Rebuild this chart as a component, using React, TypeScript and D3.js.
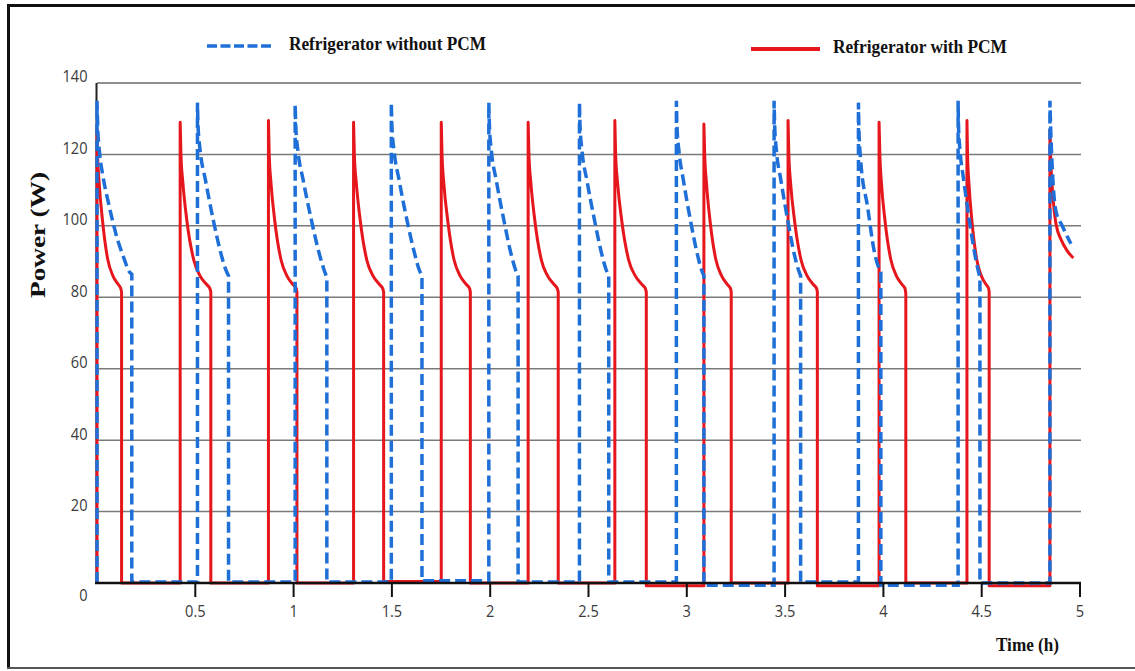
import React from "react";
import * as d3 from "d3";

const xTicks = [0.5, 1, 1.5, 2, 2.5, 3, 3.5, 4, 4.5, 5];
const xTickLabels = ["0.5", "1", "1.5", "2", "2.5", "3", "3.5", "4", "4.5", "5"];
const yTicks = [0, 20, 40, 60, 80, 100, 120, 140];
const yTickLabels = ["0", "20", "40", "60", "80", "100", "120", "140"];

const seriesNames = ["Refrigerator without PCM", "Refrigerator with PCM"];

// Refrigerator without PCM: [time (h), power (W)]
const withoutPCM: [number, number][] = [
  [0, 0], [0, 135], [0.004, 127], [0.014, 120], [0.03, 114], [0.06, 106], [0.1, 97], [0.14, 90.5], [0.16, 87.5], [0.177, 86.5], [0.177, 0.3], [0.511, 0.3],
  [0.511, 134.5], [0.514, 128], [0.525, 121], [0.551, 113], [0.59, 102], [0.634, 91.5], [0.653, 88], [0.669, 86], [0.669, 0.3], [1.008, 0.3],
  [1.008, 134], [1.011, 128], [1.022, 121], [1.048, 113], [1.089, 102], [1.134, 91.5], [1.153, 88], [1.169, 85.5], [1.169, 0.3], [1.497, 0.3],
  [1.497, 134.5], [1.5, 128], [1.511, 121], [1.536, 113], [1.575, 102], [1.619, 91.5], [1.637, 88], [1.653, 86], [1.653, 0.6], [1.993, 0.6],
  [1.993, 134.5], [1.996, 128], [2.006, 121], [2.03, 113], [2.068, 102], [2.109, 91.5], [2.127, 88], [2.142, 86], [2.142, 0.3], [2.454, 0.3],
  [2.454, 134.5], [2.457, 128], [2.467, 121], [2.491, 113], [2.529, 102], [2.57, 91.5], [2.588, 88], [2.603, 86], [2.603, 0.3], [2.947, 0.3],
  [2.947, 135], [2.95, 128], [2.96, 121], [2.982, 113], [3.017, 102], [3.056, 91.5], [3.073, 88], [3.087, 86], [3.087, -0.6], [3.444, -0.6],
  [3.444, 135], [3.447, 128], [3.456, 121], [3.478, 113], [3.512, 102], [3.549, 91.5], [3.566, 88], [3.579, 86], [3.579, 0.3], [3.873, 0.3],
  [3.873, 134.5], [3.875, 128], [3.885, 118], [3.919, 105.5], [3.953, 93], [3.978, 88], [3.987, 87], [3.987, -0.6], [4.38, -0.6],
  [4.38, 135], [4.382, 128], [4.39, 121], [4.408, 113], [4.436, 102], [4.467, 91.5], [4.48, 88], [4.491, 85.5], [4.491, 0], [4.847, 0],
  [4.847, 135], [4.851, 127], [4.86, 115], [4.878, 104], [4.91, 100], [4.935, 97], [4.954, 95],
];

// Refrigerator with PCM: [time (h), power (W)]
const withPCM: [number, number][] = [
  [0, 0], [0, 127], [0.003, 120], [0.011, 112], [0.028, 101.5], [0.055, 90.5], [0.081, 86], [0.109, 83.5], [0.121, 82.5], [0.125, 81.5], [0.125, 0], [0.423, 0],
  [0.423, 129], [0.427, 120], [0.437, 112], [0.457, 101.5], [0.492, 90.5], [0.524, 86], [0.559, 83.5], [0.574, 82.5], [0.579, 81.5], [0.579, 0], [0.872, 0],
  [0.872, 129.5], [0.876, 120], [0.885, 112], [0.904, 101.5], [0.936, 90.5], [0.966, 86], [0.998, 83.5], [1.013, 82.5], [1.017, 81.5], [1.017, 0], [1.305, 0],
  [1.305, 129], [1.309, 120], [1.319, 112], [1.339, 101.5], [1.372, 90.5], [1.404, 86], [1.438, 83.5], [1.453, 82.5], [1.458, 81.5], [1.458, 0.4], [1.751, 0.4],
  [1.751, 129], [1.755, 120], [1.764, 112], [1.784, 101.5], [1.816, 90.5], [1.847, 86], [1.88, 83.5], [1.895, 82.5], [1.899, 81.5], [1.899, 0], [2.193, 0],
  [2.193, 129], [2.197, 120], [2.207, 112], [2.227, 101.5], [2.26, 90.5], [2.292, 86], [2.326, 83.5], [2.341, 82.5], [2.346, 81.5], [2.346, 0], [2.634, 0],
  [2.634, 129.5], [2.638, 120], [2.648, 112], [2.669, 101.5], [2.704, 90.5], [2.738, 86], [2.773, 83.5], [2.789, 82.5], [2.794, 81.5], [2.794, -0.8], [3.087, -0.8],
  [3.087, 128.5], [3.091, 120], [3.1, 112], [3.118, 101.5], [3.148, 90.5], [3.177, 86], [3.208, 83.5], [3.222, 82.5], [3.226, 81.5], [3.226, 0], [3.515, 0],
  [3.515, 129.5], [3.519, 120], [3.528, 112], [3.548, 101.5], [3.581, 90.5], [3.612, 86], [3.645, 83.5], [3.66, 82.5], [3.664, 81.5], [3.664, -0.8], [3.978, -0.8],
  [3.978, 129], [3.982, 120], [3.99, 112], [4.008, 101.5], [4.038, 90.5], [4.066, 86], [4.096, 83.5], [4.11, 82.5], [4.114, 81], [4.114, 0], [4.425, 0],
  [4.425, 129.5], [4.428, 120], [4.435, 112], [4.45, 101.5], [4.475, 90.5], [4.498, 86], [4.523, 83.5], [4.535, 82.5], [4.538, 81.5], [4.538, -0.8], [4.847, -0.8],
  [4.847, 127], [4.851, 119], [4.86, 110], [4.878, 100.5], [4.905, 96], [4.935, 93], [4.966, 91],
];

const BLUE = "#1f6fd8";
const RED = "#e5161c";
const serif = "'Liberation Serif', 'Times New Roman', serif";
const sans = "'Open Sans', 'Noto Sans', sans-serif";

// Split a series into runs of strictly increasing time; vertical steps join runs.
function smoothPath(
  data: [number, number][],
  line: d3.Line<[number, number]>
): string {
  const runs: [number, number][][] = [];
  let cur: [number, number][] = [];
  data.forEach((d, i) => {
    if (i > 0 && d[0] === data[i - 1][0]) {
      runs.push(cur);
      cur = [];
    }
    cur.push(d);
  });
  runs.push(cur);
  return runs
    .map((r, i) => {
      const p = line(r) || "";
      return i === 0 ? p : "L" + p.slice(1);
    })
    .join("");
}

export default function App() {
  const W = 1135;
  const H = 671;
  const x = d3.scaleLinear().domain([0, 5]).range([97, 1080]);
  const y = d3.scaleLinear().domain([0, 140]).range([583, 83]);
  const line = d3
    .line<[number, number]>()
    .x((d) => x(d[0]))
    .y((d) => y(d[1]))
    .curve(d3.curveMonotoneX);

  return (
    <svg
      width={W}
      height={H}
      style={{ position: "absolute", left: 0, top: 0, background: "#fff" }}
    >
      <rect x={0} y={0} width={W} height={H} fill="#fff" />
      {/* frame */}
      <line x1={8.5} y1={4} x2={8.5} y2={669} stroke="#111" strokeWidth={3} />
      <line x1={7} y1={5.5} x2={W} y2={5.5} stroke="#111" strokeWidth={3} />
      <line x1={7} y1={668} x2={W} y2={668} stroke="#555" strokeWidth={2} />

      {/* gridlines */}
      {yTicks
        .filter((v) => v > 0)
        .map((v) => (
          <line
            key={"g" + v}
            x1={x(0)}
            x2={x(5) + 1}
            y1={y(v)}
            y2={y(v)}
            stroke={v === 140 ? "#8f8f8f" : "#7a7a7a"}
            strokeWidth={v === 140 ? 2 : 1.5}
          />
        ))}

      {/* y axis line */}
      <line x1={x(0) - 0.5} x2={x(0) - 0.5} y1={y(140)} y2={y(0)} stroke="#222" strokeWidth={2} />

      {/* y tick labels */}
      {yTicks.map((v, i) => (
        <text
          key={"yl" + v}
          transform={`translate(87.5,${v === 0 ? y(v) + 12 : y(v) - 7}) scale(0.86,1)`}
          textAnchor="end"
          dominantBaseline="central"
          fontFamily={sans}
          fontSize={17}
          fill="#3a3a3a"
        >
          {yTickLabels[i]}
        </text>
      ))}

      {/* series */}
      <path d={smoothPath(withPCM, line)} fill="none" stroke={RED} strokeWidth={3} strokeLinejoin="round" />
      <path
        d={smoothPath(withoutPCM, line)}
        fill="none"
        stroke={BLUE}
        strokeWidth={3.5}
        strokeDasharray="11,5"
      />

      {/* x axis */}
      <line x1={x(0) - 2} x2={x(5) + 1} y1={y(0)} y2={y(0)} stroke="#111" strokeWidth={2.5} />
      {xTicks.map((t, i) => (
        <g key={"xt" + t}>
          <line x1={x(t)} x2={x(t)} y1={y(0)} y2={y(0) + 14} stroke="#111" strokeWidth={2} />
          <text
            transform={`translate(${x(t)},611) scale(0.86,1)`}
            textAnchor="middle"
            dominantBaseline="central"
            fontFamily={sans}
            fontSize={17}
            fill="#3a3a3a"
          >
            {xTickLabels[i]}
          </text>
        </g>
      ))}

      {/* axis titles */}
      <text
        x={996}
        y={651}
        fontFamily={serif}
        fontWeight="bold"
        fontSize={18}
        fill="#111"
        textLength={63}
        lengthAdjust="spacingAndGlyphs"
      >
        Time (h)
      </text>
      <text
        transform="translate(45,235) rotate(-90)"
        textAnchor="middle"
        fontFamily={serif}
        fontWeight="bold"
        fontSize={20}
        fill="#111"
        textLength={126}
        lengthAdjust="spacingAndGlyphs"
      >
        Power (W)
      </text>

      {/* legend */}
      <line x1={207} x2={271} y1={46} y2={46} stroke={BLUE} strokeWidth={3.5} strokeDasharray="10,3.5" />
      <text
        x={289}
        y={50}
        fontFamily={serif}
        fontWeight="bold"
        fontSize={19}
        fill="#111"
        textLength={197}
        lengthAdjust="spacingAndGlyphs"
      >
        {seriesNames[0]}
      </text>
      <line x1={751} x2={820} y1={49} y2={49} stroke={RED} strokeWidth={4} />
      <text
        x={833}
        y={53}
        fontFamily={serif}
        fontWeight="bold"
        fontSize={19}
        fill="#111"
        textLength={174}
        lengthAdjust="spacingAndGlyphs"
      >
        {seriesNames[1]}
      </text>
    </svg>
  );
}
